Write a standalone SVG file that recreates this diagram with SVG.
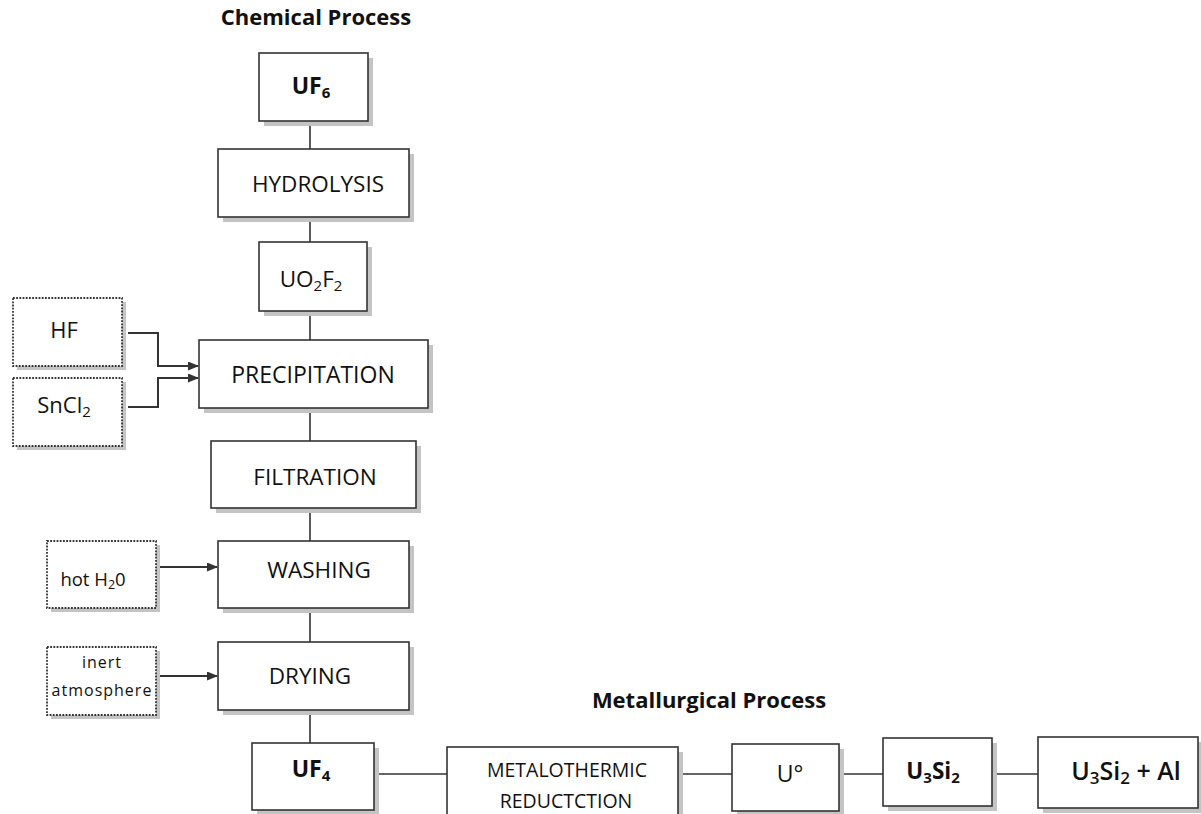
<svg xmlns="http://www.w3.org/2000/svg" width="1201" height="814" viewBox="0 0 1201 814">
<defs>
<style>
.sh{fill:#c4c4c4;stroke:none}
.bx{fill:#fff;stroke:#333;stroke-width:1.6}
.dt{fill:#fff;stroke:#333;stroke-width:1.8;stroke-dasharray:1.8 1.4}
.t{font-family:"Open Sans","DejaVu Sans",sans-serif;fill:#111;text-anchor:middle}
.b{font-weight:bold}
.ln{fill:none;stroke:#333;stroke-width:1.6}
.ar{fill:none;stroke:#333;stroke-width:2;marker-end:url(#ah)}
</style>
<marker id="ah" markerUnits="userSpaceOnUse" markerWidth="11" markerHeight="9" refX="10" refY="4.5" orient="auto">
<path d="M0,0 L11,4.5 L0,9 z" fill="#333"/>
</marker>
</defs>
<rect width="1201" height="814" fill="#fff"/>
<text class="t b" x="316" y="25" font-size="22">Chemical Process</text>
<text class="t b" x="709" y="708" font-size="22">Metallurgical Process</text>
<g id="connectors">
<path class="ln" d="M310,121 V149 M310,217 V242 M310,311 V340 M310,408 V441 M310,508 V541 M310,608 V642 M310,710 V743"/>
<path class="ln" d="M374,774 H447 M678,774 H732 M839,774 H883 M992,774 H1038"/>
<path class="ar" d="M128,333 H158 V366 H198"/>
<path class="ar" d="M128,407 H158 V378 H198"/>
<path class="ar" d="M158,567 H217"/>
<path class="ar" d="M158,676 H217"/>
</g>
<g id="uf6">
<rect class="sh" x="264" y="58" width="109" height="68"/>
<rect class="bx" x="259" y="53" width="109" height="68"/>
<text class="t b" x="311" y="94" font-size="23">UF<tspan font-size="15" dy="4">6</tspan></text>
</g>
<g id="hydrolysis">
<rect class="sh" x="223" y="154" width="191" height="68"/>
<rect class="bx" x="218" y="149" width="191" height="68"/>
<text class="t" x="318" y="192" font-size="22.5">HYDROLYSIS</text>
</g>
<g id="uo2f2">
<rect class="sh" x="264" y="247" width="108" height="69"/>
<rect class="bx" x="259" y="242" width="108" height="69"/>
<text class="t" x="311" y="287" font-size="22.5">UO<tspan font-size="15" dy="4">2</tspan><tspan dy="-4">F</tspan><tspan font-size="15" dy="4">2</tspan></text>
</g>
<g id="hf">
<rect class="sh" x="17" y="302" width="109" height="68"/>
<rect class="dt" x="13" y="298" width="109" height="68"/>
<text class="t" x="64" y="338" font-size="22">HF</text>
</g>
<g id="sncl2">
<rect class="sh" x="17" y="382" width="109" height="68"/>
<rect class="dt" x="13" y="378" width="109" height="68"/>
<text class="t" x="64" y="413" font-size="22">SnCl<tspan font-size="15" dy="4">2</tspan></text>
</g>
<g id="precipitation">
<rect class="sh" x="204" y="345" width="229" height="68"/>
<rect class="bx" x="199" y="340" width="229" height="68"/>
<text class="t" x="313" y="383" font-size="23">PRECIPITATION</text>
</g>
<g id="filtration">
<rect class="sh" x="216" y="446" width="205" height="67"/>
<rect class="bx" x="211" y="441" width="205" height="67"/>
<text class="t" x="315" y="485" font-size="22.5">FILTRATION</text>
</g>
<g id="hot-h2o">
<rect class="sh" x="51" y="545" width="109" height="67"/>
<rect class="dt" x="47" y="541" width="109" height="67"/>
<text class="t" x="93" y="586" font-size="18.5">hot H<tspan font-size="12.5" dy="3">2</tspan><tspan dy="-3">0</tspan></text>
</g>
<g id="washing">
<rect class="sh" x="223" y="546" width="191" height="67"/>
<rect class="bx" x="218" y="541" width="191" height="67"/>
<text class="t" x="319" y="578" font-size="22.5">WASHING</text>
</g>
<g id="inert">
<rect class="sh" x="51" y="651" width="109" height="68"/>
<rect class="dt" x="47" y="647" width="109" height="68"/>
<text class="t" x="102" y="668" font-size="16" letter-spacing="1">inert</text>
<text class="t" x="102" y="696" font-size="16" letter-spacing="1">atmosphere</text>
</g>
<g id="drying">
<rect class="sh" x="223" y="647" width="191" height="68"/>
<rect class="bx" x="218" y="642" width="191" height="68"/>
<text class="t" x="310" y="684" font-size="22.5">DRYING</text>
</g>
<g id="uf4">
<rect class="sh" x="257" y="748" width="122" height="67"/>
<rect class="bx" x="252" y="743" width="122" height="67"/>
<text class="t b" x="311" y="777" font-size="23">UF<tspan font-size="15" dy="4">4</tspan></text>
</g>
<g id="metalothermic">
<rect class="sh" x="452" y="752" width="231" height="70"/>
<rect class="bx" x="447" y="747" width="231" height="70"/>
<text class="t" x="567" y="777" font-size="19.5">METALOTHERMIC</text>
<text class="t" x="566" y="808" font-size="19.5">REDUCTCTION</text>
</g>
<g id="u0">
<rect class="sh" x="737" y="749" width="107" height="67"/>
<rect class="bx" x="732" y="744" width="107" height="67"/>
<text class="t" x="790" y="782" font-size="23">U°</text>
</g>
<g id="u3si2">
<rect class="sh" x="888" y="743" width="109" height="68"/>
<rect class="bx" x="883" y="738" width="109" height="68"/>
<text class="t b" x="933" y="779" font-size="22.5">U<tspan font-size="15" dy="4">3</tspan><tspan dy="-4">Si</tspan><tspan font-size="15" dy="4">2</tspan></text>
</g>
<g id="u3si2-al">
<rect class="sh" x="1043" y="742" width="162" height="71"/>
<rect class="bx" x="1038" y="737" width="160" height="71" stroke-width="2.2"/>
<text class="t" x="1126" y="780" font-size="25" font-weight="600">U<tspan font-size="17" dy="4">3</tspan><tspan dy="-4">Si</tspan><tspan font-size="17" dy="4">2</tspan><tspan dy="-4"> + Al</tspan></text>
</g>
</svg>
